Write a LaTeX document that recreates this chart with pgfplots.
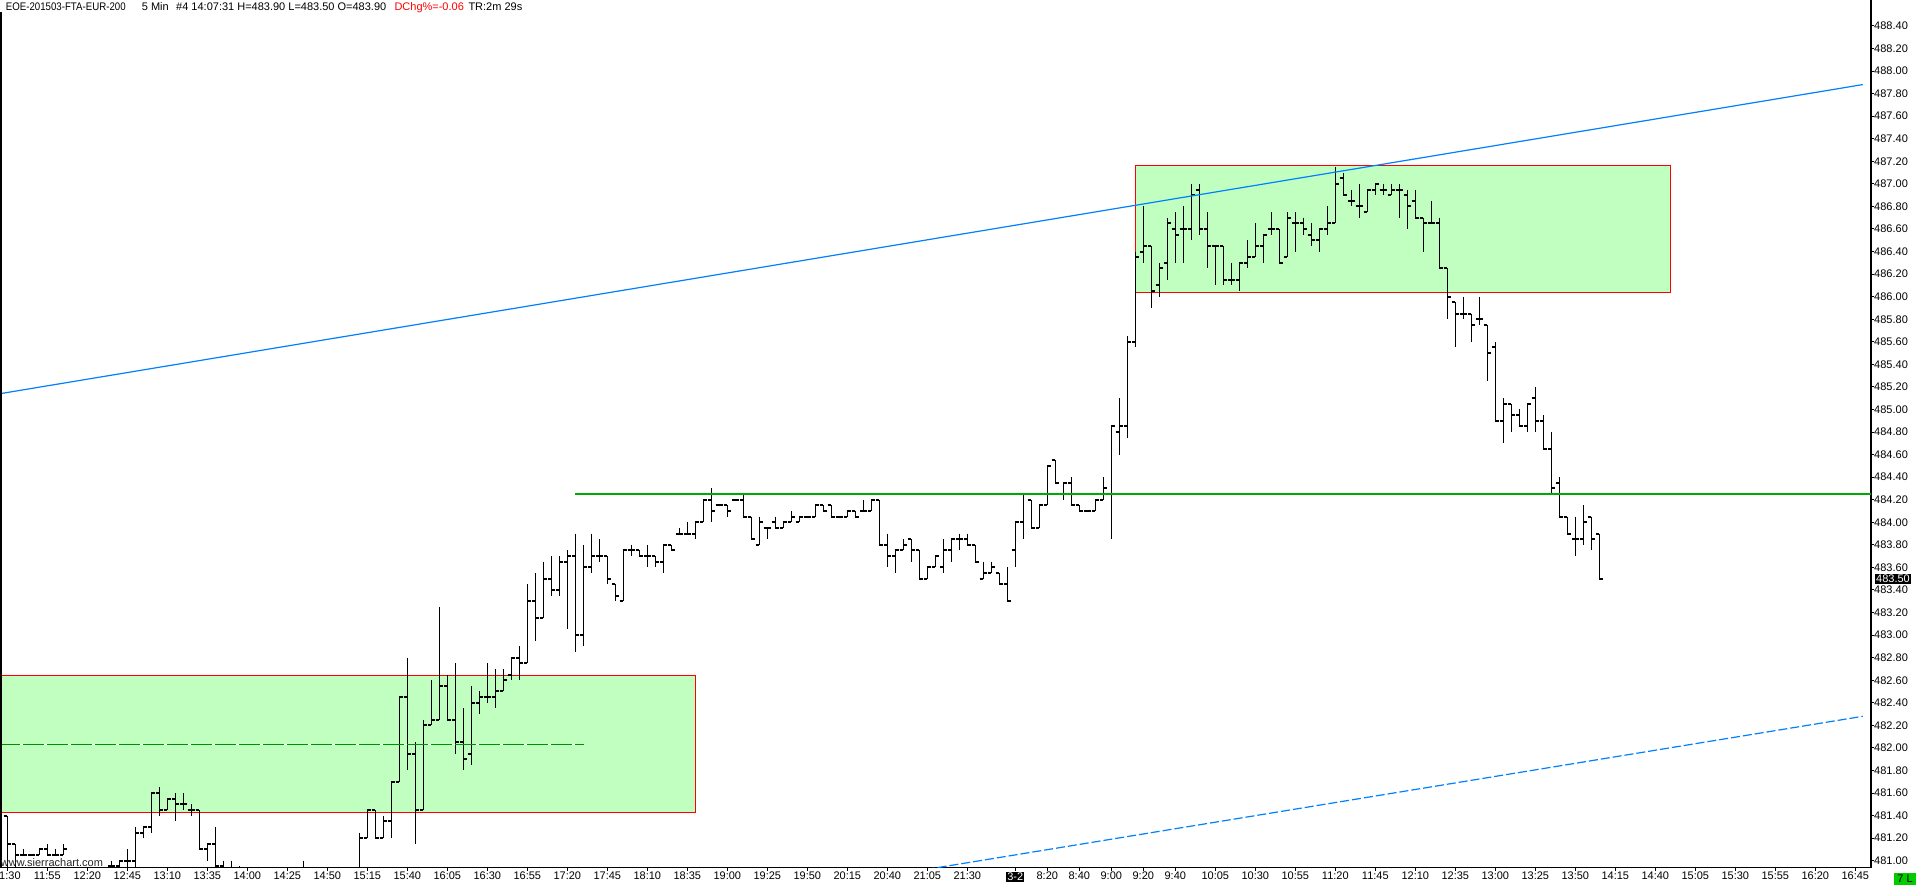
\documentclass[border=0pt]{standalone}
\usepackage{fontspec}
\setmainfont{Liberation Sans}
\usepackage{pgfplots}
\pgfplotsset{compat=1.18}
\usepackage{pgfplotstable}

\definecolor{boxgreen}{RGB}{192,255,192}
\definecolor{linegreen}{RGB}{0,170,0}
\definecolor{chanblue}{RGB}{0,128,255}
\definecolor{lblgreen}{RGB}{0,204,0}

% open tick to the left, close tick to the right
\pgfdeclareplotmark{otick}{\pgfpathmoveto{\pgfqpoint{-3.6pt}{0pt}}\pgfpathlineto{\pgfqpoint{0pt}{0pt}}\pgfusepathqstroke}
\pgfdeclareplotmark{ctick}{\pgfpathmoveto{\pgfqpoint{0pt}{0pt}}\pgfpathlineto{\pgfqpoint{3.6pt}{0pt}}\pgfusepathqstroke}

% 5 min bars, k = bar number from 11:30
\pgfplotstableread{
k O H L C
0 481.40 481.40 480.80 481.15
1 481.15 481.15 480.80 481.05
2 481.05 481.10 481.05 481.05
3 481.05 481.05 481.05 481.05
4 481.05 481.10 481.05 481.10
5 481.10 481.15 481.05 481.05
6 481.05 481.10 481.05 481.05
7 481.05 481.15 481.05 481.10
8 480.90 480.92 480.80 480.85
9 480.85 480.92 480.80 480.85
10 480.85 480.92 480.80 480.90
11 480.90 480.92 480.80 480.85
12 480.85 480.92 480.80 480.90
13 480.95 481.00 480.90 480.95
14 480.95 481.00 480.90 481.00
15 481.00 481.10 480.90 481.00
16 481.00 481.30 480.90 481.25
17 481.25 481.30 481.20 481.30
18 481.30 481.60 481.25 481.60
19 481.60 481.65 481.40 481.45
20 481.45 481.55 481.45 481.55
21 481.55 481.60 481.35 481.50
22 481.50 481.60 481.45 481.50
23 481.45 481.50 481.40 481.45
24 481.45 481.45 481.10 481.10
25 481.10 481.15 481.00 481.15
26 481.15 481.30 480.90 480.95
27 480.95 481.00 480.85 480.90
28 480.90 481.00 480.85 480.90
29 480.90 480.95 480.85 480.90
30 480.90 480.90 480.80 480.85
31 480.85 480.90 480.80 480.85
32 480.85 480.90 480.80 480.90
33 480.90 480.90 480.80 480.85
34 480.85 480.90 480.80 480.85
35 480.85 480.90 480.80 480.90
36 480.90 480.90 480.80 480.85
37 480.85 481.00 480.80 480.90
38 480.90 480.90 480.80 480.85
39 480.85 480.90 480.80 480.85
40 480.85 480.90 480.80 480.90
41 480.90 480.90 480.80 480.85
42 480.85 480.90 480.80 480.85
43 480.85 480.90 480.80 480.90
44 480.90 481.25 480.85 481.20
45 481.20 481.45 481.20 481.45
46 481.45 481.45 481.20 481.20
47 481.20 481.40 481.20 481.35
48 481.35 481.70 481.20 481.70
49 481.70 482.45 481.70 482.45
50 482.45 482.80 481.80 481.95
51 481.95 482.05 481.15 481.45
52 481.45 482.25 481.45 482.20
53 482.20 482.60 482.20 482.25
54 482.25 483.25 482.25 482.55
55 482.55 482.65 482.25 482.25
56 482.25 482.75 481.95 482.05
57 482.05 482.35 481.80 481.90
58 481.95 482.55 481.85 482.40
59 482.40 482.50 482.30 482.45
60 482.45 482.75 482.40 482.45
61 482.45 482.70 482.35 482.50
62 482.50 482.70 482.50 482.60
63 482.65 482.80 482.60 482.80
64 482.80 482.90 482.60 482.75
65 482.75 483.45 482.75 483.30
66 483.30 483.55 482.95 483.15
67 483.15 483.65 483.15 483.50
68 483.50 483.70 483.35 483.40
69 483.40 483.70 483.35 483.65
70 483.65 483.75 483.05 483.70
71 483.70 483.90 482.85 483.00
72 483.00 483.80 482.90 483.60
73 483.60 483.90 483.55 483.70
74 483.70 483.85 483.65 483.70
75 483.70 483.70 483.45 483.50
76 483.45 483.45 483.30 483.35
77 483.30 483.75 483.30 483.75
78 483.75 483.80 483.70 483.75
79 483.75 483.75 483.70 483.70
80 483.70 483.80 483.60 483.70
81 483.70 483.70 483.60 483.65
82 483.65 483.80 483.55 483.80
83 483.80 483.80 483.75 483.75
84 483.90 483.95 483.90 483.90
85 483.90 484.00 483.90 483.90
86 483.90 484.00 483.85 484.00
87 484.00 484.20 484.00 484.20
88 484.20 484.30 484.00 484.10
89 484.15 484.15 484.15 484.15
90 484.15 484.15 484.05 484.10
91 484.20 484.20 484.20 484.20
92 484.20 484.25 484.05 484.05
93 484.05 484.05 483.85 483.85
94 483.80 484.05 483.80 484.00
95 483.95 483.95 483.85 483.95
96 484.00 484.05 483.95 483.95
97 483.95 484.00 483.95 484.00
98 484.00 484.10 484.00 484.05
99 484.00 484.05 484.00 484.05
100 484.05 484.05 484.05 484.05
101 484.05 484.15 484.05 484.15
102 484.15 484.15 484.10 484.10
103 484.15 484.15 484.05 484.05
104 484.05 484.05 484.05 484.05
105 484.05 484.10 484.05 484.10
106 484.10 484.10 484.05 484.05
107 484.10 484.20 484.10 484.10
108 484.10 484.20 484.10 484.20
109 484.20 484.20 483.80 483.80
110 483.80 483.90 483.60 483.70
111 483.70 483.75 483.55 483.75
112 483.75 483.85 483.75 483.80
113 483.85 483.85 483.65 483.75
114 483.75 483.75 483.50 483.50
115 483.50 483.60 483.50 483.60
116 483.60 483.70 483.60 483.70
117 483.60 483.85 483.55 483.75
118 483.75 483.85 483.65 483.85
119 483.85 483.90 483.75 483.85
120 483.85 483.90 483.80 483.80
121 483.80 483.80 483.65 483.65
122 483.50 483.65 483.50 483.55
123 483.55 483.65 483.55 483.60
124 483.55 483.55 483.45 483.45
125 483.45 483.60 483.30 483.30
126 483.75 484.00 483.60 484.00
127 484.00 484.25 483.85 484.25
128 484.20 484.20 483.95 483.95
129 483.95 484.15 483.95 484.15
130 484.15 484.50 484.15 484.50
131 484.55 484.55 484.35 484.35
132 484.25 484.35 484.20 484.35
133 484.35 484.40 484.15 484.15
134 484.15 484.15 484.10 484.10
135 484.10 484.10 484.10 484.10
136 484.10 484.20 484.10 484.20
137 484.20 484.40 484.20 484.30
138 484.25 484.85 483.85 484.85
139 484.80 485.10 484.60 484.85
140 484.85 485.65 484.75 485.60
141 485.60 486.40 485.55 486.35
142 486.40 486.80 486.30 486.45
143 486.45 486.45 485.90 486.05
144 486.10 486.30 486.00 486.25
145 486.30 486.70 486.15 486.65
146 486.60 486.75 486.30 486.55
147 486.60 486.80 486.30 486.60
148 486.60 487.00 486.50 486.90
149 486.95 487.00 486.55 486.60
150 486.60 486.75 486.25 486.45
151 486.45 486.45 486.10 486.45
152 486.45 486.45 486.10 486.15
153 486.15 486.30 486.10 486.15
154 486.15 486.30 486.05 486.30
155 486.30 486.50 486.25 486.35
156 486.35 486.65 486.35 486.45
157 486.45 486.55 486.30 486.55
158 486.60 486.75 486.55 486.60
159 486.60 486.60 486.30 486.30
160 486.35 486.75 486.35 486.70
161 486.65 486.75 486.40 486.65
162 486.65 486.70 486.55 486.60
163 486.55 486.65 486.45 486.50
164 486.50 486.60 486.40 486.60
165 486.60 486.80 486.55 486.65
166 486.65 487.15 486.65 487.00
167 487.05 487.10 486.90 486.90
168 486.85 486.95 486.80 486.85
169 486.80 487.00 486.70 486.80
170 486.75 486.95 486.75 486.95
171 486.95 487.00 486.90 487.00
172 486.95 487.00 486.90 486.95
173 486.90 487.00 486.90 486.95
174 486.95 487.00 486.70 486.95
175 486.90 486.95 486.60 486.80
176 486.85 486.95 486.70 486.70
177 486.70 486.70 486.40 486.65
178 486.65 486.85 486.65 486.65
179 486.65 486.70 486.25 486.25
180 486.25 486.25 485.80 486.00
181 485.95 485.95 485.55 485.85
182 485.85 486.00 485.80 485.85
183 485.85 485.85 485.60 485.75
184 485.80 486.00 485.75 485.80
185 485.75 485.75 485.25 485.50
186 485.55 485.60 484.90 484.90
187 484.90 485.10 484.70 485.05
188 485.05 485.05 484.80 484.95
189 484.95 485.00 484.85 484.85
190 484.85 485.05 484.80 485.05
191 485.10 485.20 484.80 484.90
192 484.90 484.95 484.65 484.65
193 484.65 484.80 484.25 484.30
194 484.35 484.40 484.05 484.05
195 484.05 484.05 483.90 483.90
196 483.85 484.05 483.70 483.85
197 483.85 484.15 483.80 484.00
198 484.05 484.05 483.75 483.85
199 483.90 483.90 483.50 483.50
}\bars

\begin{document}
\begin{tikzpicture}[x=1pt,y=1pt]
\useasboundingbox (0,0) rectangle (1916,886);
\fill[white] (0,0) rectangle (1916,886);
\begin{axis}[
  at={(0pt,18.3pt)}, anchor=south west,
  scale only axis, width=1871pt, height=867.7pt,
  xmin=-0.9125, xmax=232.9625,
  ymin=480.938, ymax=488.630,
  axis x line*=bottom, axis y line*=right,
  axis line style={black, line width=1.5pt},
  tick align=outside, major tick length=3pt,
  tick style={black, line width=1pt},
  font=\fontsize{11pt}{13pt}\selectfont,
  xtick={0,5,10,15,20,25,30,35,40,45,50,55,60,65,70,75,80,85,90,95,100,105,110,115,120,126,130,134,138,142,146,151,156,161,166,171,176,181,186,191,196,201,206,211,216,221,226,231},
  xticklabels={11:30,11:55,12:20,12:45,13:10,13:35,14:00,14:25,14:50,15:15,15:40,16:05,16:30,16:55,17:20,17:45,18:10,18:35,19:00,19:25,19:50,20:15,20:40,21:05,21:30,{\setlength{\fboxsep}{1pt}\colorbox{black}{\color{white}3-2}},8:20,8:40,9:00,9:20,9:40,10:05,10:30,10:55,11:20,11:45,12:10,12:35,13:00,13:25,13:50,14:15,14:40,15:05,15:30,15:55,16:20,16:45},
  xticklabel style={anchor=north, inner sep=0pt, yshift=-1pt},
  ytick={481,481.2,481.4,481.6,481.8,482,482.2,482.4,482.6,482.8,483,483.2,483.4,483.6,483.8,484,484.2,484.4,484.6,484.8,485,485.2,485.4,485.6,485.8,486,486.2,486.4,486.6,486.8,487,487.2,487.4,487.6,487.8,488,488.2,488.4},
  yticklabel style={anchor=west, inner sep=0pt, xshift=0pt,
    /pgf/number format/.cd, fixed, fixed zerofill, precision=2, assume math mode=true},
  clip marker paths=true,
]
% zones
\addplot[fill=boxgreen, draw=red, line width=1.2pt, forget plot]
  coordinates {(-2,481.43) (86,481.43) (86,482.64) (-2,482.64) (-2,481.43)};
\addplot[fill=boxgreen, draw=red, line width=1.2pt, forget plot]
  coordinates {(141,486.04) (207.9,486.04) (207.9,487.16) (141,487.16) (141,486.04)};

% high-low
\addplot[draw=none, mark=none, forget plot,
  error bars/.cd, y dir=minus, y explicit,
  error mark=none, error bar style={draw=black, solid, line width=1.25pt}]
  table[x=k, y=H, y error minus expr={\thisrow{H}-\thisrow{L}}] {\bars};
% open / close
\addplot[only marks, mark=otick, mark options={black, line width=2pt, line cap=butt}, forget plot]
  table[x=k, y=O] {\bars};
\addplot[only marks, mark=ctick, mark options={black, line width=2pt, line cap=butt}, forget plot]
  table[x=k, y=C] {\bars};

% drawings
\addplot[linegreen, line width=1.2pt, forget plot] coordinates {(71,484.25) (233,484.25)};
\addplot[white, line width=1.2pt, forget plot] coordinates {(-1,482.03) (72.1,482.03)};
\addplot[linegreen!85!black, line width=1.3pt, dash pattern=on 21pt off 3pt, forget plot] coordinates {(-1,482.03) (72.1,482.03)};
\addplot[chanblue, line width=1.2pt, forget plot] coordinates {(-0.9125,485.14) (231.93,487.88)};
\addplot[chanblue, line width=1.2pt, dash pattern=on 9pt off 3pt, forget plot] coordinates {(100,480.75) (231.93,482.28)};
\end{axis}

% chart frame and texts
\draw[black, line width=1.5pt] (0.75,18.3) -- (0.75,874);
\begin{scope}[every node/.style={inner sep=0pt, font=\fontsize{11pt}{13pt}\selectfont}]
\node[anchor=base west] at (5.7,875.3) {\scalebox{0.88}[1]{EOE-201503-FTA-EUR-200}};
\node[anchor=base west] at (141.7,875.3) {5 Min};
\node[anchor=base west] at (176,875.3) {\#4 14:07:31 H=483.90 L=483.50 O=483.90};
\node[anchor=base west, text=red] at (394.3,875.3) {DChg\%=-0.06};
\node[anchor=base west] at (468.3,875.3) {TR:2m 29s};
\node[anchor=base west, text=black!85] at (0.7,20) {www.sierrachart.com};
\node[anchor=west, fill=black, text=white, inner sep=1pt] at (1875,307) {483.50};
\fill[lblgreen] (1894,1) rectangle (1916,13);
\node at (1905,7) {7 L};
\end{scope}
\end{tikzpicture}
\end{document}
